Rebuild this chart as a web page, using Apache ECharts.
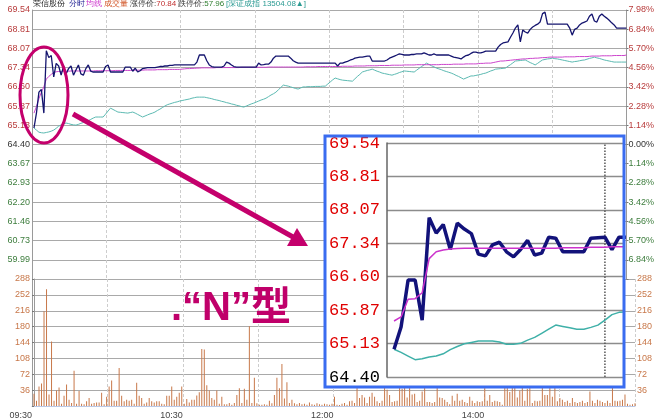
<!DOCTYPE html>
<html>
<head>
<meta charset="utf-8">
<title>荣信股份 分时</title>
<script src="https://cdn.jsdelivr.net/npm/echarts@6/dist/echarts.min.js"></script>
<style>
    html, body { margin: 0; padding: 0; background: #fff; }
    #chart { width: 657px; height: 420px; }
</style>
</head>
<body>
<div id="chart"></div>
<script>
    // 标题栏
    const stockName = '荣信股份';
    const limitUp = '70.84';
    const limitDown = '57.96';
    const indexName = '深证成指';
    const indexValue = '13504.08';

    // 分时：09:30 起每分钟一个点，共 241 个
    const priceLine = [
        65.03, 65.60, 66.40, 66.50, 65.60, 67.98, 67.72, 67.80, 66.98, 67.50,
        67.40, 67.05, 67.40, 67.10, 67.30, 67.40, 67.05, 67.25, 67.44, 67.10,
        67.05, 67.30, 67.44, 67.20, 67.17, 67.17, 67.17, 67.17, 67.17, 67.38,
        67.44, 67.17, 67.17, 67.17, 67.17, 67.17, 67.17, 67.36, 67.36, 67.36,
        67.20, 67.32, 67.17, 67.22, 67.30, 67.32, 67.34, 67.34, 67.34, 67.34,
        67.36, 67.38, 67.38, 67.40, 67.40, 67.42, 67.42, 67.44, 67.44, 67.44,
        67.44, 67.44, 67.44, 67.44, 67.44, 67.44, 67.55, 67.82, 67.82, 67.82,
        67.60, 67.44, 67.38, 67.36, 67.36, 67.36, 67.36, 67.40, 67.55, 67.51,
        67.44, 67.38, 67.36, 67.36, 67.36, 67.36, 67.36, 67.36, 67.36, 67.36,
        67.36, 67.51, 67.44, 67.45, 67.47, 67.47, 67.55, 67.70, 67.78, 67.78,
        67.78, 67.78, 67.78, 67.78, 67.70, 67.60, 67.55, 67.51, 67.51, 67.51,
        67.51, 67.51, 67.51, 67.51, 67.51, 67.51, 67.51, 67.51, 67.51, 67.51,
        67.51, 67.51, 67.51, 67.40, 67.51, 67.51, 67.55, 67.58, 67.62, 67.65,
        67.70, 67.72, 67.74, 67.74, 67.76, 67.78, 67.78, 67.59, 67.59, 67.59,
        67.59, 67.59, 67.59, 67.63, 67.70, 67.74, 67.78, 67.82, 67.86, 67.84,
        67.82, 67.82, 67.82, 67.84, 67.84, 67.86, 67.86, 67.86, 67.90, 67.86,
        67.82, 67.82, 67.86, 67.82, 67.82, 67.82, 67.82, 67.82, 67.82, 67.78,
        67.74, 67.72, 67.70, 67.67, 67.74, 67.80, 67.82, 67.88, 67.93, 67.93,
        67.90, 67.90, 67.93, 67.97, 67.97, 67.97, 67.97, 67.97, 68.12, 68.22,
        68.28, 68.30, 68.32, 68.50, 68.66, 68.85, 68.97, 68.32, 68.78, 68.70,
        68.66, 68.80, 68.89, 68.95, 69.00, 69.08, 69.40, 69.46, 69.00, 69.00,
        69.00, 69.00, 69.00, 69.00, 69.00, 69.00, 69.00, 68.85, 68.58, 68.80,
        68.85, 68.97, 69.04, 69.08, 69.12, 69.30, 69.39, 69.12, 69.08, 69.30,
        69.39, 69.30, 69.23, 69.15, 69.05, 68.97, 68.85, 68.85, 68.85, 68.85,
        68.85
    ];
    const avgLine = [
        65.60, 65.85, 66.15, 66.40, 66.60, 66.90, 67.00, 67.08, 67.15, 67.18,
        67.19, 67.19, 67.20, 67.20, 67.20, 67.21, 67.21, 67.21, 67.21, 67.21,
        67.21, 67.21, 67.21, 67.21, 67.21, 67.22, 67.22, 67.22, 67.22, 67.22,
        67.22, 67.22, 67.22, 67.23, 67.23, 67.23, 67.23, 67.23, 67.23, 67.23,
        67.24, 67.24, 67.24, 67.24, 67.24, 67.25, 67.25, 67.25, 67.25, 67.25,
        67.26, 67.26, 67.26, 67.26, 67.26, 67.27, 67.27, 67.27, 67.27, 67.27,
        67.28, 67.29, 67.30, 67.30, 67.31, 67.31, 67.32, 67.32, 67.33, 67.33,
        67.33, 67.33, 67.33, 67.33, 67.34, 67.34, 67.34, 67.34, 67.34, 67.34,
        67.34, 67.34, 67.34, 67.34, 67.35, 67.35, 67.35, 67.35, 67.35, 67.35,
        67.35, 67.35, 67.35, 67.35, 67.35, 67.36, 67.36, 67.36, 67.36, 67.36,
        67.36, 67.36, 67.36, 67.36, 67.36, 67.36, 67.36, 67.36, 67.36, 67.36,
        67.37, 67.37, 67.37, 67.37, 67.37, 67.38, 67.38, 67.38, 67.38, 67.38,
        67.38, 67.38, 67.38, 67.38, 67.38, 67.39, 67.39, 67.39, 67.39, 67.39,
        67.40, 67.40, 67.40, 67.40, 67.40, 67.41, 67.41, 67.41, 67.41, 67.41,
        67.42, 67.42, 67.42, 67.42, 67.42, 67.43, 67.43, 67.43, 67.43, 67.43,
        67.44, 67.44, 67.44, 67.44, 67.44, 67.45, 67.45, 67.45, 67.45, 67.45,
        67.45, 67.45, 67.45, 67.45, 67.45, 67.46, 67.46, 67.46, 67.46, 67.46,
        67.47, 67.47, 67.47, 67.47, 67.47, 67.48, 67.48, 67.48, 67.48, 67.48,
        67.49, 67.50, 67.50, 67.51, 67.51, 67.51, 67.53, 67.55, 67.57, 67.59,
        67.59, 67.60, 67.61, 67.62, 67.63, 67.64, 67.65, 67.66, 67.67, 67.67,
        67.68, 67.69, 67.69, 67.70, 67.70, 67.71, 67.72, 67.72, 67.73, 67.74,
        67.74, 67.74, 67.74, 67.74, 67.74, 67.75, 67.75, 67.75, 67.75, 67.75,
        67.76, 67.76, 67.76, 67.76, 67.76, 67.77, 67.78, 67.78, 67.78, 67.78,
        67.79, 67.79, 67.79, 67.79, 67.79, 67.80, 67.80, 67.80, 67.80, 67.80,
        67.82
    ];
    // 深证成指叠加线（已换算到价格坐标）
    const indexLine = [
        65.03, 64.95, 64.87, 64.85, 64.84, 64.86, 64.88, 64.91, 64.95, 65.02,
        65.10, 65.15, 65.19, 65.22, 65.20, 65.17, 65.15, 65.14, 65.17, 65.21,
        65.24, 65.26, 65.31, 65.36, 65.41, 65.45, 65.45, 65.45, 65.45, 65.56,
        65.68, 65.79, 65.74, 65.69, 65.64, 65.63, 65.62, 65.61, 65.60, 65.62,
        65.64, 65.60, 65.55, 65.50, 65.45, 65.49, 65.53, 65.57, 65.60, 65.64,
        65.70, 65.75, 65.81, 65.87, 65.92, 65.95, 65.98, 66.01, 66.03, 66.06,
        66.08, 66.10, 66.12, 66.14, 66.17, 66.19, 66.21, 66.21, 66.21, 66.21,
        66.19, 66.17, 66.15, 66.12, 66.10, 66.08, 66.05, 66.03, 66.00, 65.98,
        65.95, 65.93, 65.90, 65.88, 65.85, 65.83, 65.87, 65.91, 65.95, 65.98,
        66.02, 66.06, 66.10, 66.13, 66.17, 66.23, 66.29, 66.34, 66.40, 66.49,
        66.58, 66.67, 66.65, 66.63, 66.60, 66.57, 66.54, 66.52, 66.56, 66.60,
        66.60, 66.61, 66.61, 66.61, 66.62, 66.62, 66.62, 66.63, 66.63, 66.71,
        66.79, 66.87, 66.94, 66.91, 66.88, 66.86, 66.85, 66.84, 66.83, 66.82,
        66.91, 67.00, 67.08, 67.17, 67.20, 67.23, 67.25, 67.28, 67.24, 67.20,
        67.17, 67.13, 67.11, 67.09, 67.07, 67.05, 67.08, 67.11, 67.15, 67.18,
        67.21, 67.20, 67.19, 67.18, 67.17, 67.24, 67.31, 67.38, 67.44, 67.51,
        67.46, 67.41, 67.37, 67.32, 67.29, 67.26, 67.22, 67.19, 67.16, 67.13,
        67.09, 67.04, 67.00, 66.95, 66.90, 66.94, 66.98, 67.02, 67.02, 67.04,
        67.06, 67.08, 67.11, 67.13, 67.17, 67.21, 67.24, 67.28, 67.29, 67.30,
        67.31, 67.32, 67.39, 67.45, 67.52, 67.59, 67.60, 67.61, 67.62, 67.63,
        67.58, 67.53, 67.49, 67.44, 67.50, 67.57, 67.63, 67.65, 67.67, 67.68,
        67.70, 67.68, 67.67, 67.65, 67.63, 67.61, 67.59, 67.57, 67.55, 67.57,
        67.58, 67.60, 67.62, 67.63, 67.66, 67.69, 67.71, 67.74, 67.71, 67.69,
        67.66, 67.63, 67.61, 67.59, 67.57, 67.55, 67.55, 67.55, 67.55, 67.55,
        67.55
    ];
    const volume = [
        28, 12, 44, 51, 215, 265, 26, 146, 12, 35,
        42, 5, 23, 49, 14, 7, 80, 5, 34, 5,
        4, 11, 18, 5, 7, 8, 8, 30, 4, 21,
        44, 58, 12, 12, 86, 23, 11, 14, 12, 14,
        5, 53, 23, 18, 5, 8, 18, 11, 8, 11,
        11, 5, 4, 23, 23, 44, 14, 21, 30, 44,
        5, 16, 8, 14, 14, 24, 31, 129, 128, 47,
        35, 18, 14, 35, 5, 21, 4, 4, 7, 3,
        7, 25, 40, 7, 39, 14, 181, 7, 64, 6,
        3, 3, 4, 3, 12, 6, 25, 64, 40, 95,
        17, 54, 7, 14, 6, 4, 7, 4, 5, 3,
        8, 4, 3, 6, 4, 3, 5, 4, 3, 5,
        21, 3, 2, 5, 7, 3, 11, 12, 7, 75,
        18, 25, 19, 7, 21, 30, 21, 11, 7, 12,
        65, 37, 25, 9, 11, 12, 90, 39, 70, 19,
        60, 26, 28, 9, 12, 33, 80, 9, 9, 7,
        9, 52, 19, 18, 14, 9, 4, 23, 12, 28,
        12, 14, 9, 7, 21, 12, 7, 11, 9, 11,
        70, 12, 25, 9, 12, 11, 9, 3, 85, 75,
        32, 80, 65, 19, 35, 70, 12, 39, 60, 7,
        12, 11, 12, 75, 25, 25, 70, 21, 65, 11,
        18, 14, 9, 12, 7, 18, 9, 7, 9, 12,
        7, 9, 33, 12, 7, 14, 12, 9, 7, 12,
        7, 60, 12, 11, 12, 14, 26, 5, 3, 4,
        6
    ];

    // 放大图：开盘后前 33 分钟
    const insetPrice = [
        65.01, 65.50, 66.53, 66.53, 65.65, 67.90, 67.56, 67.75, 67.20, 67.78,
        67.65, 67.55, 67.10, 67.06, 67.30, 67.36, 67.15, 67.04, 67.20, 67.40,
        67.08, 67.12, 67.47, 67.45, 67.15, 67.15, 67.15, 67.15, 67.45, 67.46,
        67.47, 67.20, 67.47, 67.47
    ];
    const insetAvg = [
        65.63, 65.72, 66.11, 66.12, 66.25, 67.00, 67.15, 67.19, 67.21, 67.22,
        67.23, 67.23, 67.23, 67.23, 67.23, 67.23, 67.23, 67.23, 67.23, 67.23,
        67.23, 67.23, 67.23, 67.23, 67.24, 67.24, 67.24, 67.24, 67.25, 67.25,
        67.25, 67.26, 67.26, 67.26
    ];
    const insetIndex = [
        65.01, 64.94, 64.86, 64.78, 64.80, 64.84, 64.86, 64.91, 65.00, 65.07,
        65.13, 65.16, 65.19, 65.19, 65.19, 65.17, 65.12, 65.12, 65.14, 65.21,
        65.27, 65.36, 65.45, 65.54, 65.51, 65.48, 65.45, 65.45, 65.49, 65.54,
        65.65, 65.77, 65.82, 65.83
    ];
    const insetTenOClock = 30;  // 10:00 在放大图中的分钟位置

    // 刻度文字（自上而下）
    const priceTickLabels = ['69.54', '68.81', '68.07', '67.34', '66.60', '65.87', '65.13', '64.40',
        '63.67', '62.93', '62.20', '61.46', '60.73', '59.99', ''];
    const pctTickLabels = ['7.98%', '6.84%', '5.70%', '4.56%', '3.42%', '2.28%', '1.14%', '0.00%',
        '1.14%', '2.28%', '3.42%', '4.56%', '5.70%', '6.84%', ''];
    const volTickLabels = ['288', '252', '216', '180', '144', '108', '72', '36', ''];
    const insetTickLabels = ['69.54', '68.81', '68.07', '67.34', '66.60', '65.87', '65.13', '64.40'];
    const timeTickLabels = ['09:30', '', '10:30', '', '12:00', '', '14:00', '', ''];

    const prevClose = 64.40;
    const priceTop = 69.54;
    const priceStep = (priceTop - prevClose) / 7;

    let chart = echarts.init(document.getElementById('chart'));

    const red = '#b83c3c', green = '#3d7d3d', volColor = '#c8784a';
    const smallFont = { fontSize: 9, fontFamily: 'Liberation Sans' };

    function sideColor(v) {
        v = Math.round(Number(v));
        return v > 7 ? red : (v === 7 ? '#333' : green);
    }
    const hLine = { show: true, lineStyle: { color: '#a9a9a9', width: 1 } };
    const vLine = { show: true, lineStyle: { color: '#cdcdcd', width: 1, type: [3, 2] } };
    const frame = { show: true, lineStyle: { color: '#9a9a9a', width: 1 } };

    let option = {
        animation: false,
        backgroundColor: '#fff',
        grid: [
            { left: 32, top: 10, width: 603, height: 269 },
            { left: 32, top: 279, width: 603, height: 136 },
            { left: 387, top: 143, width: 236, height: 234 }
        ],
        xAxis: [
            // 数据轴放在 top，刻度轴放在 bottom，避免位置被互换
            { gridIndex: 0, type: 'value', position: 'top', min: -0.8, max: 240, show: false },
            { gridIndex: 0, type: 'value', position: 'bottom', min: 0, max: 240, interval: 30,
              axisLine: { show: false }, axisTick: { show: false }, axisLabel: { show: false }, splitLine: vLine },
            { gridIndex: 1, type: 'value', position: 'top', min: -0.8, max: 240, show: false },
            { gridIndex: 1, type: 'value', position: 'bottom', min: 0, max: 240, interval: 30,
              axisLine: { show: true, lineStyle: { color: '#b8c8e8', width: 1 } }, axisTick: { show: false }, splitLine: vLine,
              axisLabel: Object.assign({ color: '#444', margin: 5, align: 'right',
                  formatter: v => timeTickLabels[Math.round(v / 30)] || '' }, smallFont) },
            { gridIndex: 2, type: 'value', position: 'top', min: -1, max: 32.57, show: false }
        ],
        yAxis: [
            { gridIndex: 0, type: 'value', min: prevClose - 7 * priceStep, max: priceTop, show: false },
            { gridIndex: 0, type: 'value', min: 0, max: 14, interval: 1, position: 'left',
              axisLine: frame, axisTick: { show: false }, splitLine: hLine,
              axisLabel: Object.assign({ margin: 2, color: sideColor,
                  formatter: v => priceTickLabels[14 - Math.round(v)] }, smallFont) },
            { gridIndex: 0, type: 'value', min: 0, max: 14, interval: 1, position: 'right',
              axisLine: frame, axisTick: { show: true, length: 2, lineStyle: { color: '#777' } }, splitLine: { show: false },
              axisLabel: Object.assign({ margin: 2, color: sideColor,
                  formatter: v => pctTickLabels[14 - Math.round(v)] }, smallFont) },
            { gridIndex: 1, type: 'value', min: 0, max: 288, interval: 36, position: 'left',
              axisLine: frame, axisTick: { show: false }, splitLine: hLine,
              axisLabel: Object.assign({ margin: 2, color: volColor,
                  formatter: v => volTickLabels[Math.round((288 - v) / 36)] }, smallFont) },
            { gridIndex: 1, type: 'value', min: 0, max: 288, interval: 36, position: 'right',
              axisLine: frame, axisTick: { show: true, length: 2, lineStyle: { color: '#777' } }, splitLine: { show: false },
              axisLabel: Object.assign({ margin: 2, color: volColor,
                  formatter: v => volTickLabels[Math.round((288 - v) / 36)] }, smallFont) },
            { gridIndex: 2, type: 'value', min: prevClose, max: priceTop, show: false },
            { gridIndex: 2, type: 'value', min: 0, max: 7, interval: 1, position: 'left', z: 12,
              axisLine: { show: true, lineStyle: { color: '#666', width: 1.5 } }, axisTick: { show: false },
              splitLine: { show: true, lineStyle: { color: '#8c8c8c', width: 1.3 } },
              axisLabel: { margin: 7, fontSize: 17, fontFamily: 'Liberation Mono',
                  color: v => Math.round(Number(v)) === 0 ? '#000' : '#e00000',
                  formatter: v => insetTickLabels[7 - Math.round(v)] } }
        ],
        series: [
            { name: '深证成指', type: 'line', xAxisIndex: 0, yAxisIndex: 0, symbol: 'none',
              lineStyle: { color: '#5cbab2', width: 1 }, data: indexLine.map((v, i) => [i, v]) },
            { name: '均线', type: 'line', xAxisIndex: 0, yAxisIndex: 0, symbol: 'none',
              lineStyle: { color: '#cc44cc', width: 1 }, data: avgLine.map((v, i) => [i, v]) },
            { name: '分时', type: 'line', xAxisIndex: 0, yAxisIndex: 0, symbol: 'none',
              lineStyle: { color: '#14146e', width: 1.3 }, data: priceLine.map((v, i) => [i, v]) },
            { name: '成交量', type: 'bar', xAxisIndex: 2, yAxisIndex: 3, barWidth: 1,
              itemStyle: { color: volColor }, data: volume.map((v, i) => [i, v]) },

            // 放大图
            { type: 'line', xAxisIndex: 4, yAxisIndex: 5, z: 14, symbol: 'none', silent: true,
              lineStyle: { color: '#555', width: 1.5, type: 'dotted' },
              data: [[insetTenOClock, prevClose], [insetTenOClock, priceTop]] },
            { type: 'line', xAxisIndex: 4, yAxisIndex: 5, z: 15, symbol: 'none',
              lineStyle: { color: '#3fb0a8', width: 1.5 }, data: insetIndex.map((v, i) => [i, v]) },
            { type: 'line', xAxisIndex: 4, yAxisIndex: 5, z: 15, symbol: 'none',
              lineStyle: { color: '#12127a', width: 3.5 }, data: insetPrice.map((v, i) => [i, v]) },
            { type: 'line', xAxisIndex: 4, yAxisIndex: 5, z: 15, symbol: 'none',
              lineStyle: { color: '#cc33cc', width: 1.5 }, data: insetAvg.map((v, i) => [i, v]) }
        ],
        graphic: [
            { type: 'text', left: 33, top: 0, z: 40,
              style: {
                  text: `{n|${stockName}}  {b|分时} {m|均线} {o|成交量} {k|涨停价:}{r|${limitUp}} {k|跌停价:}{g|${limitDown}} {t|[${indexName} ${indexValue}▲]}`,
                  font: '8px "Noto Sans CJK SC"',
                  rich: {
                      n: { fill: '#222', fontSize: 8 },
                      b: { fill: '#1a1a90', fontSize: 8 },
                      m: { fill: '#cc33cc', fontSize: 8 },
                      o: { fill: '#d05020', fontSize: 8 },
                      k: { fill: '#333', fontSize: 8 },
                      r: { fill: '#c03030', fontSize: 8 },
                      g: { fill: '#2e7d2e', fontSize: 8 },
                      t: { fill: '#2a9a92', fontSize: 8 }
                  }
              } },
            // 放大图底板与边框
            { type: 'rect', z: 10, shape: { x: 325, y: 136, width: 299, height: 251 },
              style: { fill: '#fff' } },
            { type: 'rect', z: 30, shape: { x: 325, y: 136, width: 299, height: 251 },
              style: { fill: 'none', stroke: '#3a6cf0', lineWidth: 3 } },
            // 标注
            { type: 'ellipse', z: 40, shape: { cx: 44, cy: 95, rx: 24, ry: 48 },
              style: { fill: 'none', stroke: '#c4006c', lineWidth: 3 } },
            { type: 'line', z: 40, shape: { x1: 73, y1: 114, x2: 293, y2: 237 },
              style: { stroke: '#c4006c', lineWidth: 5 } },
            { type: 'polygon', z: 40, shape: { points: [[308, 246], [287, 246], [297, 228]] },
              style: { fill: '#c4006c' } },
            { type: 'text', left: 171, top: 289, z: 40,
              style: { text: '.“N”型', font: 'bold 40px "Liberation Sans", "Noto Sans CJK SC"',
                  fill: '#c0006a', textShadowColor: '#222', textShadowOffsetX: 2, textShadowOffsetY: 2, textShadowBlur: 0 } }
        ]
    };

    chart.setOption(option);
</script>
</body>
</html>
